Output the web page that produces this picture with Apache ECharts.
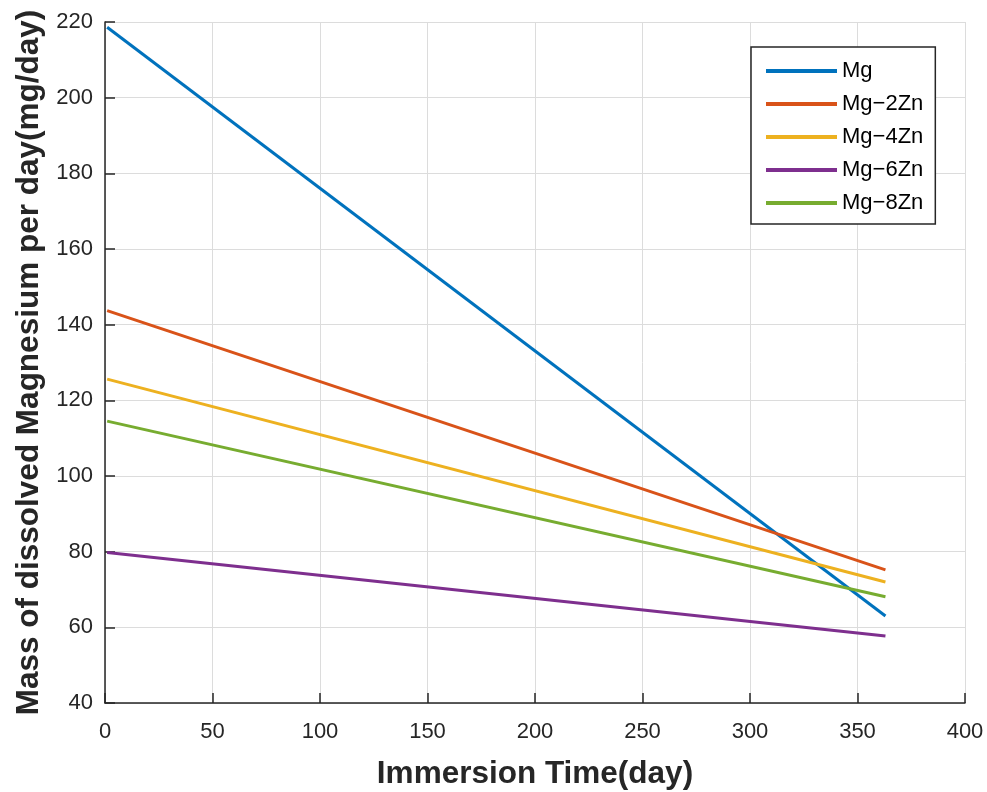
<!DOCTYPE html>
<html>
<head>
<meta charset="utf-8">
<script src="https://cdn.jsdelivr.net/npm/echarts@6/dist/echarts.min.js"></script>
<style>
  html, body { margin: 0; padding: 0; background: #fff; }
  #chart { width: 987px; height: 792px; }
</style>
</head>
<body>
<div id="chart"></div>
<script>
// immersion days (start and end of each fitted line)
var days = [1, 363]
var seriesNames = ['Mg', 'Mg−2Zn', 'Mg−4Zn', 'Mg−6Zn', 'Mg−8Zn']
var mg    = [218.6, 63.0]
var mg2zn = [143.7, 75.2]
var mg4zn = [125.6, 72.0]
var mg6zn = [79.8, 57.7]
var mg8zn = [114.5, 68.1]
var colors = ['#0072BD', '#D95319', '#EDB120', '#7E2F8E', '#77AC30']

var values = [mg, mg2zn, mg4zn, mg6zn, mg8zn]
var series = []
values.forEach(function (v, i) {
    series.push({
        name: seriesNames[i],
        type: 'line',
        data: days.map(function (d, k) { return [d, v[k]] }),
        symbol: 'none',
        lineStyle: { width: 3, color: colors[i] },
        itemStyle: { color: colors[i] }
    })
})

var fontName = 'Liberation Sans, Arial, sans-serif'
var tickFont = { color: '#262626', fontSize: 22, fontFamily: fontName }
var titleFont = { color: '#262626', fontSize: 31.5, fontWeight: 'bold', fontFamily: fontName }

var option = {
    animation: false,
    grid: { left: 105, right: 22, top: 22, bottom: 89, outerBoundsMode: 'none' },
    legend: {
        orient: 'vertical',
        left: 751,
        top: 47,
        padding: [13, 12, 10, 15],
        itemWidth: 71,
        itemHeight: 4,
        itemGap: 11,
        borderColor: '#262626',
        borderWidth: 1.5,
        backgroundColor: '#fff',
        icon: 'rect',
        textStyle: { color: '#000', fontSize: 22, fontFamily: fontName },
        data: seriesNames
    },
    xAxis: {
        type: 'value',
        min: 0,
        max: 400,
        interval: 50,
        name: 'Immersion Time(day)',
        nameLocation: 'middle',
        nameGap: 55,
        nameTextStyle: titleFont,
        axisLine: { lineStyle: { color: '#262626', width: 1.5 } },
        axisTick: { inside: true, length: 10, lineStyle: { color: '#262626', width: 1.5 } },
        axisLabel: Object.assign({ margin: 18 }, tickFont),
        splitLine: { show: true, lineStyle: { color: '#dcdcdc', width: 1 } }
    },
    yAxis: {
        type: 'value',
        min: 40,
        max: 220,
        interval: 20,
        name: 'Mass of dissolved Magnesium per day(mg/day)',
        nameLocation: 'middle',
        nameGap: 58,
        nameTextStyle: titleFont,
        axisLine: { show: true, lineStyle: { color: '#262626', width: 1.5 } },
        axisTick: { show: true, inside: true, length: 10, lineStyle: { color: '#262626', width: 1.5 } },
        axisLabel: Object.assign({ margin: 12 }, tickFont),
        splitLine: { show: true, lineStyle: { color: '#dcdcdc', width: 1 } }
    },
    series: series
}

var chart = echarts.init(document.getElementById('chart'))
chart.setOption(option)
</script>
</body>
</html>
